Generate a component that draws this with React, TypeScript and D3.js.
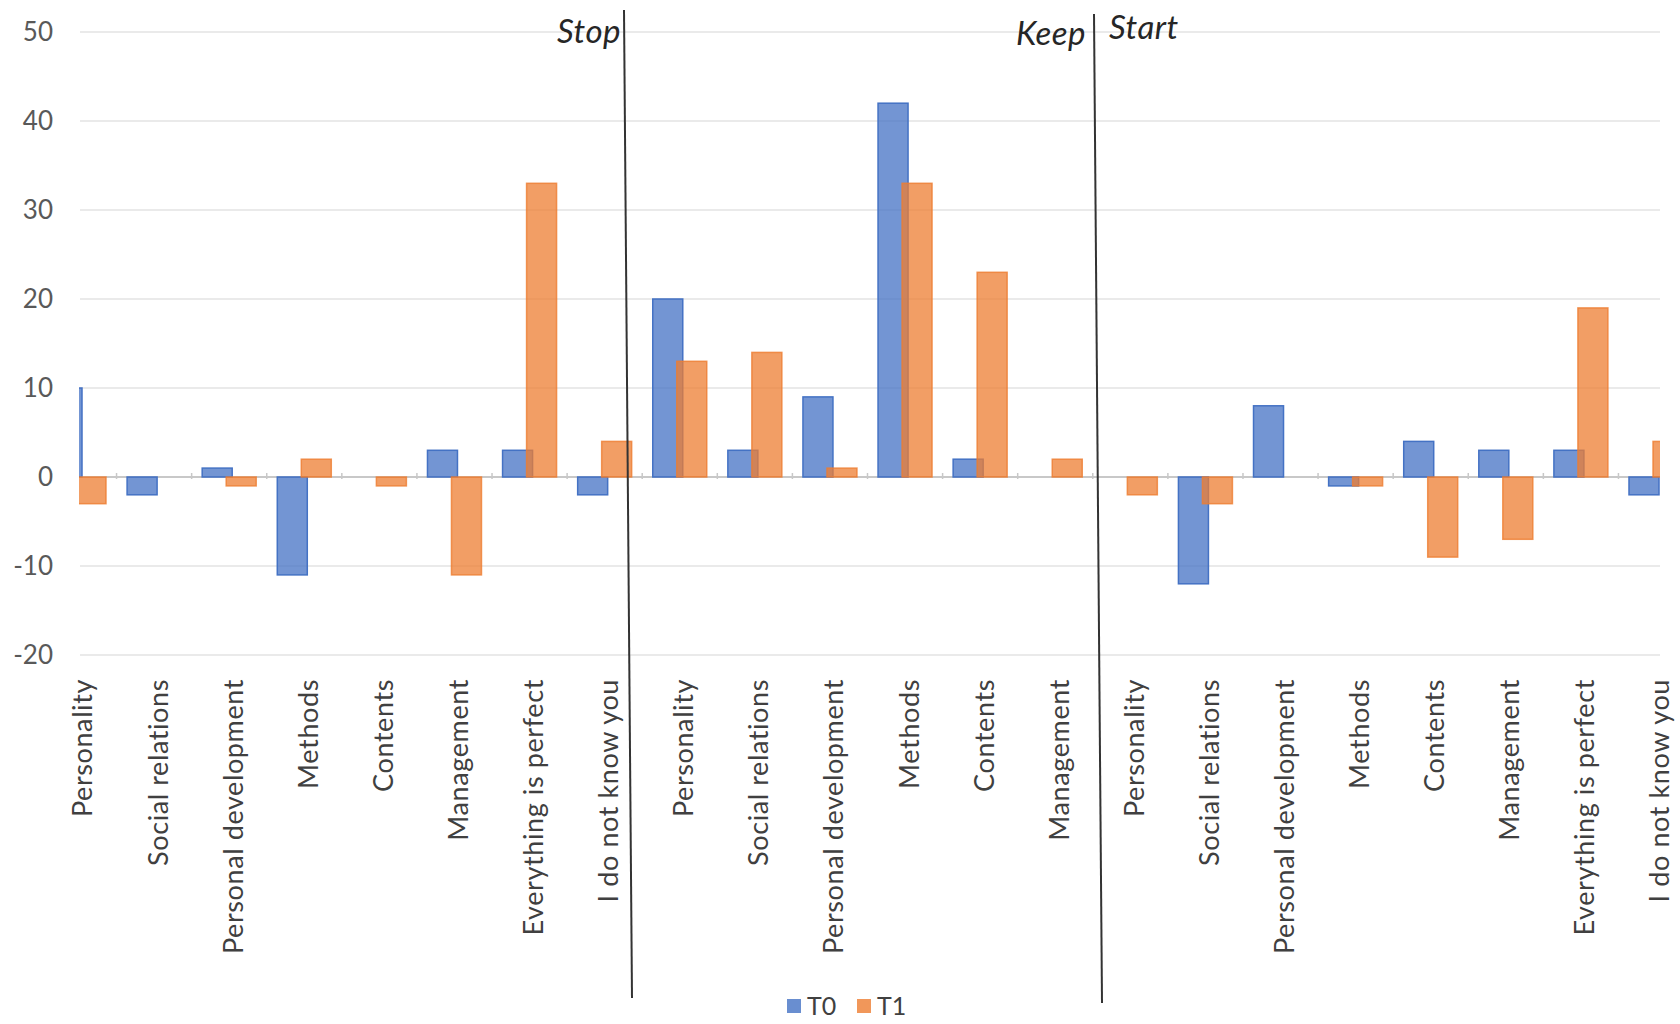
import React, { useEffect, useRef } from "react";
import * as d3 from "d3";

// three panels of one chart: Stop / Keep / Start
const stopCategories = [
  "Personality",
  "Social relations",
  "Personal development",
  "Methods",
  "Contents",
  "Management",
  "Everything is perfect",
  "I do not know you",
];
const keepCategories = [
  "Personality",
  "Social relations",
  "Personal development",
  "Methods",
  "Contents",
  "Management",
];
const startCategories = [
  "Personality",
  "Social relations",
  "Personal development",
  "Methods",
  "Contents",
  "Management",
  "Everything is perfect",
  "I do not know you",
];

const stopT0 = [10, -2, 1, -11, 0, 3, 3, -2];
const stopT1 = [-3, 0, -1, 2, -1, -11, 33, 4];
const keepT0 = [20, 3, 9, 42, 2, 0];
const keepT1 = [13, 14, 1, 33, 23, 2];
const startT0 = [0, -12, 8, -1, 4, 3, 3, -2];
const startT1 = [-2, -3, 0, -1, -9, -7, 19, 4];

const sectionLabels = ["Stop", "Keep", "Start"];
const seriesNames = ["T0", "T1"];
const yTicks = [-20, -10, 0, 10, 20, 30, 40, 50];

const WIDTH = 1680;
const HEIGHT = 1024;
const FONT = "Lato, 'Liberation Sans', sans-serif";
const BLUE = "#4472C4";
const ORANGE = "#ED7D31";

interface Row {
  key: number;
  label: string;
  t0: number;
  t1: number;
}

function buildRows(): Row[] {
  const rows: Row[] = [];
  const parts: [string[], number[], number[]][] = [
    [stopCategories, stopT0, stopT1],
    [keepCategories, keepT0, keepT1],
    [startCategories, startT0, startT1],
  ];
  parts.forEach(([cats, a, b]) => {
    cats.forEach((c, i) => {
      rows.push({ key: rows.length, label: c, t0: a[i], t1: b[i] });
    });
  });
  return rows;
}

export default function App() {
  const ref = useRef<SVGSVGElement>(null);

  useEffect(() => {
    const rows = buildRows();
    const svg = d3.select(ref.current!);
    svg.selectAll("*").remove();

    const plotLeft = 79;
    const plotRight = 1660;

    const x = d3
      .scalePoint<number>()
      .domain(rows.map((r) => r.key))
      .range([82, 1659]);
    const y = d3.scaleLinear().domain([-20, 50]).range([655, 32]);

    const barW = 30;

    // gridlines
    svg
      .append("g")
      .selectAll("line")
      .data(yTicks.filter((t) => t !== 0))
      .join("line")
      .attr("x1", 80)
      .attr("x2", plotRight)
      .attr("y1", (d) => y(d))
      .attr("y2", (d) => y(d))
      .attr("stroke", "#e3e3e3")
      .attr("stroke-width", 1.5);

    // y tick labels
    svg
      .append("g")
      .selectAll("text")
      .data(yTicks)
      .join("text")
      .attr("x", 53)
      .attr("y", (d) => y(d))
      .attr("dy", "0.35em")
      .attr("text-anchor", "end")
      .attr("font-family", FONT)
      .attr("font-size", 26)
      .attr("fill", "#595959")
      .text((d) => d);

    // zero axis
    svg
      .append("line")
      .attr("x1", 80)
      .attr("x2", plotRight)
      .attr("y1", y(0))
      .attr("y2", y(0))
      .attr("stroke", "#c8c8c8")
      .attr("stroke-width", 2);

    const step = x.step();
    svg
      .append("g")
      .selectAll("line")
      .data(rows.slice(0, -1))
      .join("line")
      .attr("x1", (d) => x(d.key)! - 3 + step / 2)
      .attr("x2", (d) => x(d.key)! - 3 + step / 2)
      .attr("y1", y(0) - 4)
      .attr("y2", y(0) + 2)
      .attr("stroke", "#c8c8c8")
      .attr("stroke-width", 1.5);

    // clip the bars to the plot area
    svg
      .append("clipPath")
      .attr("id", "plot-clip")
      .append("rect")
      .attr("x", plotLeft)
      .attr("y", 0)
      .attr("width", plotRight - plotLeft)
      .attr("height", HEIGHT);

    const bars = svg.append("g").attr("clip-path", "url(#plot-clip)");

    bars
      .selectAll("rect.t0")
      .data(rows.filter((r) => r.t0 !== 0))
      .join("rect")
      .attr("class", "t0")
      .attr("x", (d) => x(d.key)! - barW)
      .attr("y", (d) => y(Math.max(0, d.t0)))
      .attr("width", barW)
      .attr("height", (d) => Math.abs(y(d.t0) - y(0)))
      .attr("fill", BLUE)
      .attr("fill-opacity", 0.75)
      .attr("stroke", BLUE)
      .attr("stroke-width", 1.5);

    bars
      .selectAll("rect.t1")
      .data(rows.filter((r) => r.t1 !== 0))
      .join("rect")
      .attr("class", "t1")
      .attr("x", (d) => x(d.key)! - 6)
      .attr("y", (d) => y(Math.max(0, d.t1)))
      .attr("width", barW)
      .attr("height", (d) => Math.abs(y(d.t1) - y(0)))
      .attr("fill", ORANGE)
      .attr("fill-opacity", 0.75)
      .attr("stroke", ORANGE)
      .attr("stroke-opacity", 0.8)
      .attr("stroke-width", 1.5);

    // category labels, rotated
    svg
      .append("g")
      .selectAll("text")
      .data(rows)
      .join("text")
      .attr("transform", (d) => `translate(${x(d.key)! + 1},679) rotate(-90)`)
      .attr("dy", "0.35em")
      .attr("text-anchor", "end")
      .attr("font-family", FONT)
      .attr("font-size", 27)
      .attr("letter-spacing", 0.6)
      .attr("fill", "#404040")
      .text((d) => d.label);

    // section dividers
    const dividers = [
      [624, 10, 632, 998],
      [1094, 14, 1102, 1003],
    ];
    svg
      .append("g")
      .selectAll("line")
      .data(dividers)
      .join("line")
      .attr("x1", (d) => d[0])
      .attr("y1", (d) => d[1])
      .attr("x2", (d) => d[2])
      .attr("y2", (d) => d[3])
      .attr("stroke", "#333")
      .attr("stroke-width", 2);

    // section titles
    const titlePos = [
      { x: 621, y: 43, anchor: "end" },
      { x: 1086, y: 45, anchor: "end" },
      { x: 1109, y: 39, anchor: "start" },
    ];
    svg
      .append("g")
      .selectAll("text")
      .data(sectionLabels)
      .join("text")
      .attr("x", (_, i) => titlePos[i].x)
      .attr("y", (_, i) => titlePos[i].y)
      .attr("text-anchor", (_, i) => titlePos[i].anchor)
      .attr("font-family", FONT)
      .attr("font-style", "italic")
      .attr("font-size", 33)
      .attr("letter-spacing", 0.5)
      .attr("fill", "#262626")
      .text((d) => d);

    // legend
    const legend = svg
      .append("g")
      .selectAll("g")
      .data(seriesNames)
      .join("g")
      .attr("transform", (_, i) => `translate(${787 + i * 70},999)`);
    legend
      .append("rect")
      .attr("width", 14)
      .attr("height", 14)
      .attr("fill", (_, i) => (i === 0 ? BLUE : ORANGE))
      .attr("fill-opacity", 0.8);
    legend
      .append("text")
      .attr("x", 20)
      .attr("y", 7)
      .attr("dy", "0.35em")
      .attr("font-family", FONT)
      .attr("font-size", 25)
      .attr("fill", "#404040")
      .text((d) => d);
  }, []);

  return (
    <svg
      ref={ref}
      width={WIDTH}
      height={HEIGHT}
      style={{ position: "absolute", left: 0, top: 0, background: "#fff" }}
    />
  );
}
